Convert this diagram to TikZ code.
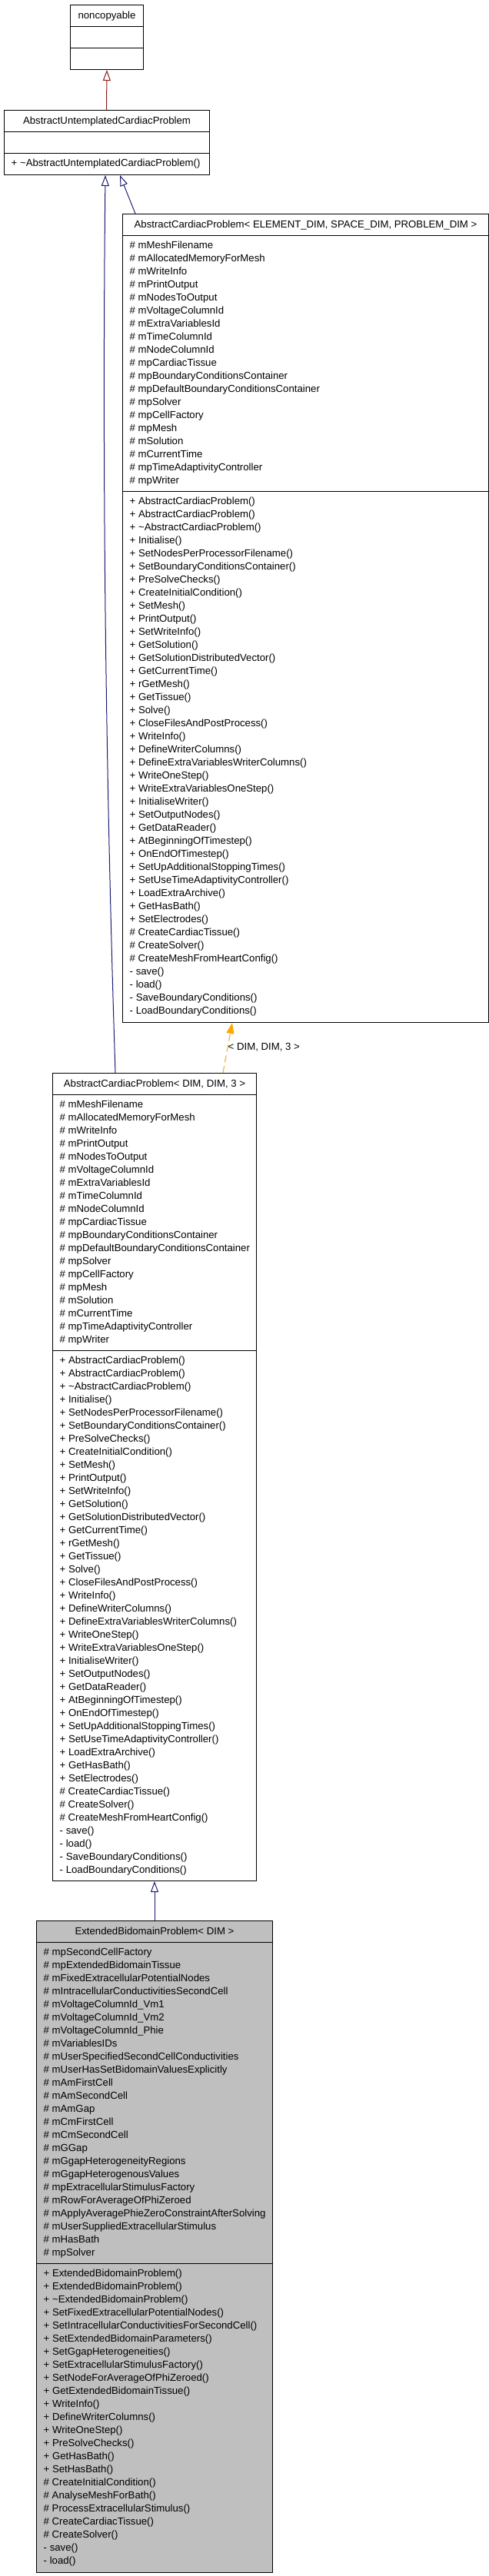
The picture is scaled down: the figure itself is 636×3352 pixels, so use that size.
\documentclass[tikz,border=0pt]{standalone}
\usepackage{fontspec}
\setmainfont{Liberation Sans}
\usetikzlibrary{arrows.meta,calc}
\definecolor{midblue}{HTML}{191970}
\definecolor{firebrick}{HTML}{8B1A1A}
\definecolor{orangec}{HTML}{FFA500}
\definecolor{boxgray}{HTML}{BFBFBF}
\begin{document}
\begin{tikzpicture}[x=1pt,y=-1pt,
  box/.style={draw=black,line width=1pt,rectangle,inner sep=0pt,anchor=north west,fill=white},
  txt/.style={font=\fontsize{13.2}{16}\selectfont,inner sep=0pt,anchor=base west},
  hdr/.style={font=\fontsize{13.2}{16}\selectfont,inner sep=0pt,anchor=base},
  sepline/.style={draw=black,line width=1pt},
  inherit/.style={draw=midblue,line width=1pt,-{Triangle[length=14pt,width=10pt,fill=white]}},
  privinherit/.style={draw=firebrick,line width=1pt,-{Triangle[length=14pt,width=10pt,fill=white]}},
  templ/.style={draw=orangec,fill=none,line width=1pt,dash pattern=on 9pt off 5pt,-{Triangle[length=14pt,width=10pt,fill=orangec]}}
]
\useasboundingbox (0,0) rectangle (636,3352);

\def\acpattrs{mMeshFilename,mAllocatedMemoryForMesh,mWriteInfo,mPrintOutput,mNodesToOutput,mVoltageColumnId,mExtraVariablesId,mTimeColumnId,mNodeColumnId,mpCardiacTissue,mpBoundaryConditionsContainer,mpDefaultBoundaryConditionsContainer,mpSolver,mpCellFactory,mpMesh,mSolution,mCurrentTime,mpTimeAdaptivityController,mpWriter}
\def\acpmethods{+ AbstractCardiacProblem(),+ AbstractCardiacProblem(),+ \textasciitilde AbstractCardiacProblem(),+ Initialise(),+ SetNodesPerProcessorFilename(),+ SetBoundaryConditionsContainer(),+ PreSolveChecks(),+ CreateInitialCondition(),+ SetMesh(),+ PrintOutput(),+ SetWriteInfo(),+ GetSolution(),+ GetSolutionDistributedVector(),+ GetCurrentTime(),+ rGetMesh(),+ GetTissue(),+ Solve(),+ CloseFilesAndPostProcess(),+ WriteInfo(),+ DefineWriterColumns(),+ DefineExtraVariablesWriterColumns(),+ WriteOneStep(),+ WriteExtraVariablesOneStep(),+ InitialiseWriter(),+ SetOutputNodes(),+ GetDataReader(),+ AtBeginningOfTimestep(),+ OnEndOfTimestep(),+ SetUpAdditionalStoppingTimes(),+ SetUseTimeAdaptivityController(),+ LoadExtraArchive(),+ GetHasBath(),+ SetElectrodes(),\# CreateCardiacTissue(),\# CreateSolver(),\# CreateMeshFromHeartConfig(),- save(),- load(),- SaveBoundaryConditions(),- LoadBoundaryConditions()}
\def\ebpattrs{mpSecondCellFactory,mpExtendedBidomainTissue,mFixedExtracellularPotentialNodes,mIntracellularConductivitiesSecondCell,mVoltageColumnId\_Vm1,mVoltageColumnId\_Vm2,mVoltageColumnId\_Phie,mVariablesIDs,mUserSpecifiedSecondCellConductivities,mUserHasSetBidomainValuesExplicitly,mAmFirstCell,mAmSecondCell,mAmGap,mCmFirstCell,mCmSecondCell,mGGap,mGgapHeterogeneityRegions,mGgapHeterogenousValues,mpExtracellularStimulusFactory,mRowForAverageOfPhiZeroed,mApplyAveragePhieZeroConstraintAfterSolving,mUserSuppliedExtracellularStimulus,mHasBath,mpSolver}
\def\ebpmethods{+ ExtendedBidomainProblem(),+ ExtendedBidomainProblem(),+ \textasciitilde ExtendedBidomainProblem(),+ SetFixedExtracellularPotentialNodes(),+ SetIntracellularConductivitiesForSecondCell(),+ SetExtendedBidomainParameters(),+ SetGgapHeterogeneities(),+ SetExtracellularStimulusFactory(),+ SetNodeForAverageOfPhiZeroed(),+ GetExtendedBidomainTissue(),+ WriteInfo(),+ DefineWriterColumns(),+ WriteOneStep(),+ PreSolveChecks(),+ GetHasBath(),+ SetHasBath(),\# CreateInitialCondition(),\# AnalyseMeshForBath(),\# ProcessExtracellularStimulus(),\# CreateCardiacTissue(),\# CreateSolver(),- save(),- load()}

% ---------- noncopyable
\node[box,minimum width=95pt,minimum height=84pt] (nc) at (91,6) {};
\draw[sepline] ($(nc.north west)+(0,28)$) -- ($(nc.north east)+(0,28)$);
\draw[sepline] ($(nc.north west)+(0,56)$) -- ($(nc.north east)+(0,56)$);
\node[hdr] (nch) at ($(nc.north)+(0,18.7)$) {noncopyable};

% ---------- AbstractUntemplatedCardiacProblem
\node[box,minimum width=267pt,minimum height=84pt] (aucp) at (5,143) {};
\draw[sepline] ($(aucp.north west)+(0,28)$) -- ($(aucp.north east)+(0,28)$);
\draw[sepline] ($(aucp.north west)+(0,56)$) -- ($(aucp.north east)+(0,56)$);
\node[hdr] (aucph) at ($(aucp.north)+(0,18.7)$) {AbstractUntemplatedCardiacProblem};
\node[txt] (aucpm0) at ($(aucp.north west)+(9.5,73.5)$) {+ \textasciitilde AbstractUntemplatedCardiacProblem()};

% ---------- AbstractCardiacProblem template
\node[box,minimum width=476pt,minimum height=1052pt] (acpT) at (159,278) {};
\draw[sepline] ($(acpT.north west)+(0,28)$) -- ($(acpT.north east)+(0,28)$);
\draw[sepline] ($(acpT.north west)+(0,361)$) -- ($(acpT.north east)+(0,361)$);
\node[hdr] (acpTh) at ($(acpT.north)+(0,18.7)$) {AbstractCardiacProblem< ELEMENT\_DIM, SPACE\_DIM, PROBLEM\_DIM >};
\foreach \t [count=\i from 0] in \acpattrs
  \node[txt] (acpTa\i) at ($(acpT.north west)+(9.5,{45.5+17*\i})$) {\# \t};
\foreach \t [count=\i from 0] in \acpmethods
  \node[txt] (acpTm\i) at ($(acpT.north west)+(9.5,{378.5+17*\i})$) {\t};

% ---------- AbstractCardiacProblem< DIM, DIM, 3 >
\node[box,minimum width=265pt,minimum height=1051pt] (acpD) at (68,1396) {};
\draw[sepline] ($(acpD.north west)+(0,28)$) -- ($(acpD.north east)+(0,28)$);
\draw[sepline] ($(acpD.north west)+(0,361)$) -- ($(acpD.north east)+(0,361)$);
\node[hdr] (acpDh) at ($(acpD.north)+(0,18.7)$) {AbstractCardiacProblem< DIM, DIM, 3 >};
\foreach \t [count=\i from 0] in \acpattrs
  \node[txt] (acpDa\i) at ($(acpD.north west)+(9.5,{45.5+17*\i})$) {\# \t};
\foreach \t [count=\i from 0] in \acpmethods
  \node[txt] (acpDm\i) at ($(acpD.north west)+(9.5,{378.5+17*\i})$) {\t};

% ---------- ExtendedBidomainProblem< DIM >
\node[box,fill=boxgray,minimum width=307pt,minimum height=848pt] (ebp) at (47,2499) {};
\draw[sepline] ($(ebp.north west)+(0,28)$) -- ($(ebp.north east)+(0,28)$);
\draw[sepline] ($(ebp.north west)+(0,446)$) -- ($(ebp.north east)+(0,446)$);
\node[hdr] (ebph) at ($(ebp.north)+(0,18.7)$) {ExtendedBidomainProblem< DIM >};
\foreach \t [count=\i from 0] in \ebpattrs
  \node[txt] (ebpa\i) at ($(ebp.north west)+(9.5,{45.5+17*\i})$) {\# \t};
\foreach \t [count=\i from 0] in \ebpmethods
  \node[txt] (ebpm\i) at ($(ebp.north west)+(9.5,{463.5+17*\i})$) {\t};

% ---------- connectors
\draw[privinherit] ([xshift=133.5pt]aucp.north west) -- (nc.south);
\draw[inherit] ([xshift=17pt]acpT.north west) -- ([xshift=151pt]aucp.south west);
\draw[inherit] ([xshift=82pt]acpD.north west) .. controls (134,900) and (134,500) .. ([xshift=132pt]aucp.south west);
\draw[templ] ([xshift=222pt]acpD.north west) -- ([xshift=143pt]acpT.south west);
\node[txt] (tlbl) at (296.5,1366.7) {< DIM, DIM, 3 >};
\draw[inherit] (ebp.north) -- (acpD.south);
\end{tikzpicture}
\end{document}
